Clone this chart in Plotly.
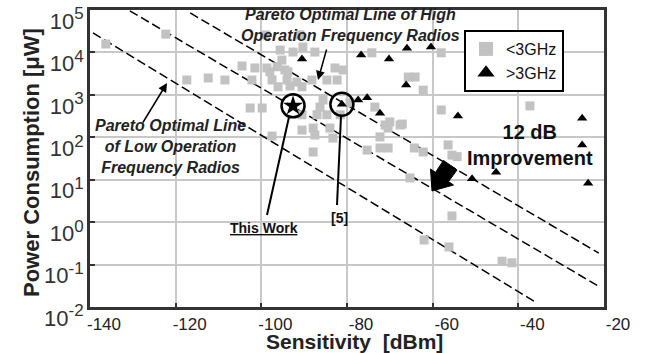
import plotly.graph_objects as go

# ---------------- data ----------------
low_sq_x = [-136.3, -122.3, -117.4, -112.4, -108.5, -104.5, -101.5, -102.2, -102.6, -99.8,
            -98.7, -97.5, -95.6, -95.2, -94.5, -91.0, -99.1, -92.6, -87.5, -90.3,
            -96.3, -98.0, -93.8, -82.8, -80.9, -94.0, -91.7, -88.2, -84.7, -82.3,
            -96.1, -93.3, -90.5, -86.3, -85.6, -79.3, -90.5, -87.0, -84.7, -71.1,
            -70.0, -67.6, -90.5, -87.9, -87.5, -84.0, -83.3, -74.2, -65.7, -64.1,
            -62.2, -58.0, -58.0, -37.3, -56.4, -64.3, -62.2, -55.5, -54.3, -73.5,
            -67.1, -70.4, -72.3, -72.3, -70.4, -65.3, -97.5, -87.9, -75.3, -81.6,
            -55.5, -62.0, -56.2, -43.8, -41.5]
low_sq_y = [15800, 27000, 2240, 2500, 2240, 4800, 4300, 2240, 490, 490,
            4300, 2240, 11400, 6600, 3860, 25900, 25900, 10200, 10200, 13400,
            4600, 3500, 3500, 4300, 3860, 2240, 2000, 2240, 2240, 2240,
            1550, 1620, 1550, 515, 760, 650, 340, 340, 340, 195,
            230, 195, 148, 165, 113, 165, 96, 9800, 2630, 2630,
            1290, 9800, 440, 550, 66, 56, 45, 38, 35, 515,
            205, 165, 102, 56, 56, 11, 107, 45, 50, 340,
            1.4, 0.38, 0.26, 0.12, 0.11]

high_tri_x = [-90.5, -76.7, -70.2, -66.0, -60.4, -66.2, -81.2, -77.4, -75.3, -72.3,
              -54.1, -25.1, -25.1, -45.2, -50.8, -23.7]
high_tri_y = [7000, 8700, 7000, 12600, 13400, 1700, 600, 760, 850, 370,
              316, 280, 66, 15, 10.5, 8.3]

this_work_x = [-92.6]
this_work_y = [550]
ref5_x = [-81.2]
ref5_y = [600]

pareto_low_x = [-139.3, -35.9]
pareto_low_y = [10 ** 4.46, 10 ** -1.89]
pareto_mid_x = [-130.7, -21.6]
pareto_mid_y = [10 ** 4.98, 10 ** -1.49]
pareto_high_x = [-116.6, -21.2]
pareto_high_y = [10 ** 4.93, 10 ** -0.73]

x_ticks = [-140, -120, -100, -80, -60, -40, -20]
y_ticks = [1e-2, 1e-1, 1e0, 1e1, 1e2, 1e3, 1e4, 1e5]
y_exponents = ["-2", "-1", "0", "1", "2", "3", "4", "5"]

# ---------------- figure ----------------
FONT = "Arial, Liberation Sans, sans-serif"
NARROW = "Liberation Sans Narrow, Arial Narrow, " + FONT
W, H = 646, 353
L, R, T, B = 90, 42, 10, 46
PW, PH = W - L - R, H - T - B


def px(xp):
    return (xp - L) / PW


def py(yp):
    return 1 - (yp - T) / PH


fig = go.Figure()

dash_line = dict(color="black", width=1.5, dash="9px,4px")
for lx, ly in [(pareto_low_x, pareto_low_y), (pareto_mid_x, pareto_mid_y),
               (pareto_high_x, pareto_high_y)]:
    fig.add_trace(go.Scatter(x=lx, y=ly, mode="lines", line=dash_line,
                             showlegend=False, hoverinfo="skip"))

SQ_COLOR = "#c2c2c2"
fig.add_trace(go.Scatter(x=low_sq_x, y=low_sq_y, mode="markers", name="<3GHz",
                         legendgroup="lo", showlegend=False,
                         marker=dict(symbol="square", size=9, color=SQ_COLOR)))
fig.add_trace(go.Scatter(x=high_tri_x, y=high_tri_y, mode="markers", name=">3GHz",
                         legendgroup="hi", showlegend=False,
                         marker=dict(symbol="triangle-up", size=9, color="black")))
# legend entries (larger symbols as in the reference legend)
fig.add_trace(go.Scatter(x=[None], y=[None], mode="markers", name="<3GHz",
                         legendgroup="lo",
                         marker=dict(symbol="square", size=14, color=SQ_COLOR)))
fig.add_trace(go.Scatter(x=[None], y=[None], mode="markers", name=">3GHz",
                         legendgroup="hi",
                         marker=dict(symbol="triangle-up", size=15, color="black")))

# circled highlights
fig.add_trace(go.Scatter(x=this_work_x, y=this_work_y, mode="markers", showlegend=False,
                         marker=dict(symbol="star", size=15, color="black")))
fig.add_trace(go.Scatter(x=this_work_x + ref5_x, y=this_work_y + ref5_y, mode="markers",
                         showlegend=False,
                         marker=dict(symbol="circle-open", size=23,
                                     line=dict(color="black", width=2.5), color="black")))

fig.update_xaxes(type="linear", range=[-140, -20], tickvals=x_ticks,
                 ticktext=[str(v) for v in x_ticks],
                 tickfont=dict(family=FONT, size=17, color="#222"),
                 ticklabelshift=14, ticklabeloverflow="allow",
                 showgrid=True, gridcolor="#c8c8c8", gridwidth=1.5,
                 showline=True, linewidth=3, linecolor="#333", mirror=True,
                 ticks="inside", ticklen=4, tickcolor="#333", tickwidth=2,
                 zeroline=False, automargin=False)
fig.update_yaxes(type="log", range=[-2, 5], tickvals=y_ticks,
                 ticktext=[f"10<sup><span style='font-size:17px'>{e}</span></sup>" for e in y_exponents],
                 tickfont=dict(family=FONT, size=22, color="#333"),
                 ticklabelshift=11, ticklabelstandoff=-1, ticklabeloverflow="allow",
                 showgrid=True, gridcolor="#c8c8c8", gridwidth=1.5,
                 showline=True, linewidth=3, linecolor="#333", mirror=True,
                 ticks="inside", ticklen=5, tickcolor="#333", tickwidth=2,
                 zeroline=False, automargin=False)

ann_font = dict(family=FONT, size=16, color="#222", weight="bold", style="italic")
annotations = [
    # axis titles
    dict(xref="paper", yref="paper", x=px(354), y=py(341), text="Sensitivity&nbsp;&nbsp;[dBm]",
         showarrow=False, xanchor="center", yanchor="middle",
         font=dict(family=FONT, size=21, color="#222", weight="bold")),
    dict(xref="paper", yref="paper", x=px(31), y=py(163), text="Power Consumption [μW]",
         showarrow=False, xanchor="center", yanchor="middle", textangle=-90,
         font=dict(family=FONT, size=22, color="#222", weight="bold")),
    # labels
    dict(xref="paper", yref="paper", x=px(350), y=py(25), text="Pareto Optimal Line of High<br>Operation Frequency Radios",
         showarrow=False, font=ann_font, align="center", xanchor="center", yanchor="middle"),
    dict(xref="paper", yref="paper", x=px(170), y=py(146), text="Pareto Optimal Line<br>of Low Operation<br>Frequency Radios",
         showarrow=False, font=ann_font, align="center", xanchor="center", yanchor="middle"),
    dict(xref="paper", yref="paper", x=px(530), y=py(145), text="12 dB<br>Improvement",
         showarrow=False, font=dict(family=FONT, size=20, color="#111", weight="bold"),
         align="center", xanchor="center", yanchor="middle"),
    dict(xref="paper", yref="paper", x=px(264), y=py(228), text="<u>This Work</u>",
         showarrow=False, font=dict(family=NARROW, size=14, color="#111", weight="bold"),
         xanchor="center", yanchor="middle"),
    dict(xref="paper", yref="paper", x=px(339), y=py(218), text="[5]",
         showarrow=False, font=dict(family=NARROW, size=14, color="#111", weight="bold"),
         xanchor="center", yanchor="middle"),
    # pointer arrows
    dict(xref="paper", yref="paper", x=px(318), y=py(80), ax=327 - 318, ay=48 - 80,
         axref="pixel", ayref="pixel", text="", showarrow=True, arrowhead=2,
         arrowsize=1.2, arrowwidth=1.5, arrowcolor="black"),
    dict(xref="paper", yref="paper", x=px(167), y=py(83), ax=142 - 167, ay=124 - 83,
         axref="pixel", ayref="pixel", text="", showarrow=True, arrowhead=2,
         arrowsize=1.2, arrowwidth=1.5, arrowcolor="black"),
]

# block arrow for the 12 dB improvement
pts = [(443.5, 160.4), (457, 170), (448.5, 181.6), (453.5, 185), (432, 191), (430.5, 169), (435.5, 172.4)]
path = "M " + " L ".join(f"{px(a):.4f},{py(b):.4f}" for a, b in pts) + " Z"
shapes = [
    dict(type="path", xref="paper", yref="paper", path=path, fillcolor="black",
         line=dict(color="black", width=1)),
    dict(type="line", xref="paper", yref="paper", x0=px(289), y0=py(117), x1=px(267), y1=py(215),
         line=dict(color="black", width=2)),
    dict(type="line", xref="paper", yref="paper", x0=px(341), y0=py(116), x1=px(337), y1=py(205),
         line=dict(color="black", width=2)),
]

fig.update_layout(
    width=W, height=H,
    margin=dict(l=L, r=R, t=T, b=B, autoexpand=False),
    paper_bgcolor="white", plot_bgcolor="white",
    font=dict(family=FONT, color="#222"),
    showlegend=True,
    legend=dict(x=px(464), y=py(30), xanchor="left", yanchor="top",
                bgcolor="white", bordercolor="black", borderwidth=2,
                font=dict(family=FONT, size=16, color="#111"),
                tracegroupgap=0, itemwidth=30),
    annotations=annotations,
    shapes=shapes,
)

fig.write_html("out.html", config={"displayModeBar": False},
               post_script="document.body.style.margin='0';")
